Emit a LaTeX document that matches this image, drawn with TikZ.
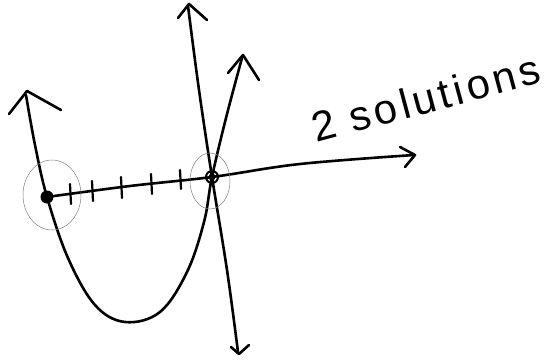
\documentclass[tikz,border=0pt]{standalone}
\usepackage{fontspec}
\setmainfont{Liberation Sans}
\begin{document}
\begin{tikzpicture}[x=1pt,y=-1pt,
  pen/.style={line width=2.6pt,line cap=round,line join=round},
  tickmark/.style={line width=2.2pt,line cap=round},
  halo/.style={line width=0.5pt,gray},
  label/.style={font=\fontsize{42}{42}\selectfont\addfontfeature{LetterSpace=9},rotate=15,inner sep=0pt}]
\useasboundingbox (0,0) rectangle (557,364);
\fill[white] (0,0) rectangle (557,364);
% key points
\coordinate (r1) at (47,197);
\coordinate (r2) at (212,177);
% parabola
\draw[pen] plot[smooth,tension=0.6] coordinates {(26,95) (35,145) (r1) (68,258) (95,305) (125,322) (160,312) (187,272) (204,222) (r2) (226,118) (242,58)};
\draw[pen] (9,114) -- (27,91) -- (61,110);
\draw[pen] (228,73) -- (243,55) -- (259,80);
% steep line
\draw[pen] plot[smooth,tension=0.6] coordinates {(188,6) (199,90) (r2) (227,270) (238,352)};
\draw[pen] (178,18) -- (189,4) -- (207,20);
\draw[pen] (231,347) -- (239,354) -- (249,345);
% x-axis
\draw[pen] plot[smooth,tension=0.6] coordinates {(r1) (130,186) (r2) (300,164) (414,155)};
\draw[pen] (400,147) -- (415,155) -- (405,167);
% ticks
\foreach \x/\a/\b in {70/184/204, 92/181/201, 121/177/198, 151/174/194, 180/170/189}
  \draw[tickmark] (\x,\a) -- (\x+1,\b);
% root dots
\fill (r1) circle (6.5);
\draw[line width=2pt] (r2) circle (6);
\fill (r2) circle (3.5);
% thin circles
\draw[halo] (52,195) ellipse (29 and 35);
\draw[halo] (210,181) ellipse (20 and 28);
% label
\node[label] (lbl) at (426,98) {2 solutions};
\end{tikzpicture}
\end{document}
